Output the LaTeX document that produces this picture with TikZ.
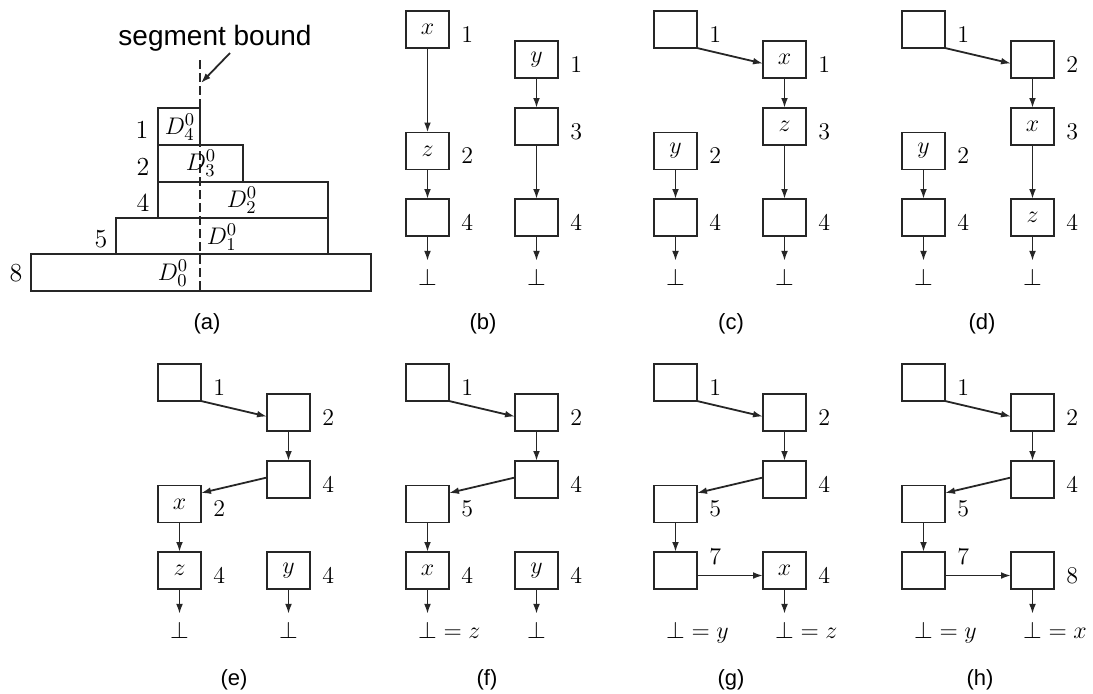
\documentclass[tikz,border=0pt]{standalone}
\usepackage{fontspec}
\newfontfamily\capfont{Liberation Sans}
\usetikzlibrary{arrows.meta,calc}

% one coordinate unit = one pixel, y grows downwards
\tikzset{
  ink/.style={draw=black!85, line width=0.9pt},
  cell/.style={ink, minimum width=21.5pt, minimum height=18.5pt,
               inner sep=0pt, outer sep=0pt, font=\fontsize{12}{14}\selectfont},
  num/.style={anchor=base west, inner sep=0pt, font=\fontsize{12}{14}\selectfont},
  link/.style={ink, -{Latex[length=5pt,width=3.4pt]}},
  nil/.style={anchor=base, inner sep=3.5pt, font=\fontsize{12}{14}\selectfont},
  subcap/.style={inner sep=0pt, font=\capfont\fontsize{11}{13}\selectfont},
  big/.style={inner sep=0pt, font=\fontsize{13}{15}\selectfont},
}

% number written to the right of a cell
\newcommand\boxnum[3][-6]{\node[num] (#2n) at ($(#2.south east)+(12,#1)$) {#3};}

\begin{document}
\begin{tikzpicture}[x=0.5pt,y=-0.5pt]
\useasboundingbox (0,0) rectangle (1093,693);

% ---------------- (a) stacked segments ----------------
\draw[ink] (158,108) rectangle (200,145);
\draw[ink] (158,145) rectangle (243,182);
\draw[ink] (158,182) rectangle (328,218);
\draw[ink] (116,218) rectangle (328,254);
\draw[ink] (31,254) rectangle (371,291);
\draw[ink, dash pattern=on 4.5pt off 2pt] (200,60) -- (200,291);

\node[big] (s1) at (142,130) {1};
\node[big] (s2) at (143,167) {2};
\node[big] (s4) at (143,203) {4};
\node[big] (s5) at (101,239) {5};
\node[big] (s8) at (16,273) {8};
\node[big] (sd4) at (180,127) {$D_4^0$};
\node[big] (sd3) at (201,163) {$D_3^0$};
\node[big] (sd2) at (242,200) {$D_2^0$};
\node[big] (sd1) at (222,237) {$D_1^0$};
\node[big] (sd0) at (173,273) {$D_0^0$};

\node[inner sep=0pt, font=\capfont\fontsize{14}{16}\selectfont] (sb) at (215,38) {segment bound};
\coordinate (sbtail) at (230,53);
\coordinate (sbtip) at (201,83);
\draw[link] (sbtail) -- (sbtip);

% ---------------- (b) ----------------
\node[cell] (bx) at (427.5,29.5) {$x$}; \boxnum{bx}{1}
\node[cell] (bz) at (427.5,151) {$z$}; \boxnum{bz}{2}
\node[cell] (bp) at (427.5,217.5) {}; \boxnum{bp}{4}
\node[nil] (bpb) at (427.5,285) {$\bot$};
\node[cell] (by) at (536.5,59.5) {$y$}; \boxnum{by}{1}
\node[cell] (bq) at (536.5,126.5) {}; \boxnum{bq}{3}
\node[cell] (br) at (536.5,217.5) {}; \boxnum{br}{4}
\node[nil] (brb) at (536.5,285) {$\bot$};
\draw[link] (bx) -- (bz);
\draw[link] (bz) -- (bp);
\draw[link] (bp) -- (bpb);
\draw[link] (by) -- (bq);
\draw[link] (bq) -- (br);
\draw[link] (br) -- (brb);

% ---------------- (c) ----------------
\node[cell] (c1) at (675.5,29.5) {}; \boxnum{c1}{1}
\node[cell] (cx) at (784.5,59.5) {$x$}; \boxnum{cx}{1}
\node[cell] (cz) at (784.5,126.5) {$z$}; \boxnum{cz}{3}
\node[cell] (cp) at (784.5,217.5) {}; \boxnum{cp}{4}
\node[nil] (cpb) at (784.5,285) {$\bot$};
\node[cell] (cy) at (675.5,151) {$y$}; \boxnum{cy}{2}
\node[cell] (cq) at (675.5,217.5) {}; \boxnum{cq}{4}
\node[nil] (cqb) at (675.5,285) {$\bot$};
\draw[link] (c1.south east) -- ($(cx.west)+(0,4)$);
\draw[link] (cx) -- (cz);
\draw[link] (cz) -- (cp);
\draw[link] (cp) -- (cpb);
\draw[link] (cy) -- (cq);
\draw[link] (cq) -- (cqb);

% ---------------- (d) ----------------
\node[cell] (d1) at (923.5,29.5) {}; \boxnum{d1}{1}
\node[cell] (d2) at (1032.5,59.5) {}; \boxnum{d2}{2}
\node[cell] (dx) at (1032.5,126.5) {$x$}; \boxnum{dx}{3}
\node[cell] (dz) at (1032.5,217.5) {$z$}; \boxnum{dz}{4}
\node[nil] (dzb) at (1032.5,285) {$\bot$};
\node[cell] (dy) at (923.5,151) {$y$}; \boxnum{dy}{2}
\node[cell] (dq) at (923.5,217.5) {}; \boxnum{dq}{4}
\node[nil] (dqb) at (923.5,285) {$\bot$};
\draw[link] (d1.south east) -- ($(d2.west)+(0,4)$);
\draw[link] (d2) -- (dx);
\draw[link] (dx) -- (dz);
\draw[link] (dz) -- (dzb);
\draw[link] (dy) -- (dq);
\draw[link] (dq) -- (dqb);

% ---------------- (e) ----------------
\node[cell] (e1) at (179.5,382.5) {}; \boxnum{e1}{1}
\node[cell] (e2) at (288.5,412.5) {}; \boxnum{e2}{2}
\node[cell] (e4) at (288.5,479.5) {}; \boxnum{e4}{4}
\node[cell] (ex) at (179.5,504) {$x$}; \boxnum{ex}{2}
\node[cell] (ez) at (179.5,570.5) {$z$}; \boxnum{ez}{4}
\node[nil] (ezb) at (179.5,638) {$\bot$};
\node[cell] (ey) at (288.5,570.5) {$y$}; \boxnum{ey}{4}
\node[nil] (eyb) at (288.5,638) {$\bot$};
\draw[link] (e1.south east) -- ($(e2.west)+(0,4)$);
\draw[link] (e2) -- (e4);
\draw[link] ($(e4.west)+(0,-2)$) -- ($(ex.east)+(0,-11)$);
\draw[link] (ex) -- (ez);
\draw[link] (ez) -- (ezb);
\draw[link] (ey) -- (eyb);

% ---------------- (f) ----------------
\node[cell] (f1) at (427.5,382.5) {}; \boxnum{f1}{1}
\node[cell] (f2) at (536.5,412.5) {}; \boxnum{f2}{2}
\node[cell] (f4) at (536.5,479.5) {}; \boxnum{f4}{4}
\node[cell] (f5) at (427.5,504) {}; \boxnum{f5}{5}
\node[cell] (fx) at (427.5,570.5) {$x$}; \boxnum{fx}{4}
\node[nil] (fxb) at (427.5,638) {$\bot\rlap{${}=z$}$};
\node[cell] (fy) at (536.5,570.5) {$y$}; \boxnum{fy}{4}
\node[nil] (fyb) at (536.5,638) {$\bot$};
\draw[link] (f1.south east) -- ($(f2.west)+(0,4)$);
\draw[link] (f2) -- (f4);
\draw[link] ($(f4.west)+(0,-2)$) -- ($(f5.east)+(0,-11)$);
\draw[link] (f5) -- (fx);
\draw[link] (fx) -- (fxb);
\draw[link] (fy) -- (fyb);

% ---------------- (g) ----------------
\node[cell] (g1) at (675.5,382.5) {}; \boxnum{g1}{1}
\node[cell] (g2) at (784.5,412.5) {}; \boxnum{g2}{2}
\node[cell] (g4) at (784.5,479.5) {}; \boxnum{g4}{4}
\node[cell] (g5) at (675.5,504) {}; \boxnum{g5}{5}
\node[cell] (g7) at (675.5,570.5) {}; \boxnum[-25]{g7}{7}
\node[nil] (g7b) at (675.5,638) {$\bot\rlap{${}=y$}$};
\node[cell] (gx) at (784.5,570.5) {$x$}; \boxnum{gx}{4}
\node[nil] (gxb) at (784.5,638) {$\bot\rlap{${}=z$}$};
\draw[link] (g1.south east) -- ($(g2.west)+(0,4)$);
\draw[link] (g2) -- (g4);
\draw[link] ($(g4.west)+(0,-2)$) -- ($(g5.east)+(0,-11)$);
\draw[link] (g5) -- (g7);
\draw[link] ($(g7.east)+(0,5)$) -- ($(gx.west)+(0,5)$);
\draw[link] (gx) -- (gxb);

% ---------------- (h) ----------------
\node[cell] (h1) at (923.5,382.5) {}; \boxnum{h1}{1}
\node[cell] (h2) at (1032.5,412.5) {}; \boxnum{h2}{2}
\node[cell] (h4) at (1032.5,479.5) {}; \boxnum{h4}{4}
\node[cell] (h5) at (923.5,504) {}; \boxnum{h5}{5}
\node[cell] (h7) at (923.5,570.5) {}; \boxnum[-25]{h7}{7}
\node[nil] (h7b) at (923.5,638) {$\bot\rlap{${}=y$}$};
\node[cell] (h8) at (1032.5,570.5) {}; \boxnum{h8}{8}
\node[nil] (h8b) at (1032.5,638) {$\bot\rlap{${}=x$}$};
\draw[link] (h1.south east) -- ($(h2.west)+(0,4)$);
\draw[link] (h2) -- (h4);
\draw[link] ($(h4.west)+(0,-2)$) -- ($(h5.east)+(0,-11)$);
\draw[link] (h5) -- (h7);
\draw[link] ($(h7.east)+(0,5)$) -- ($(h8.west)+(0,5)$);
\draw[link] (h8) -- (h8b);

% ---------------- captions ----------------
\node[subcap] (ka) at (207,324) {(a)};
\node[subcap] (kb) at (483,324) {(b)};
\node[subcap] (kc) at (731,324) {(c)};
\node[subcap] (kd) at (982,324) {(d)};
\node[subcap] (ke) at (234,680) {(e)};
\node[subcap] (kf) at (487,680) {(f)};
\node[subcap] (kg) at (731,680) {(g)};
\node[subcap] (kh) at (980,680) {(h)};
\end{tikzpicture}
\end{document}
